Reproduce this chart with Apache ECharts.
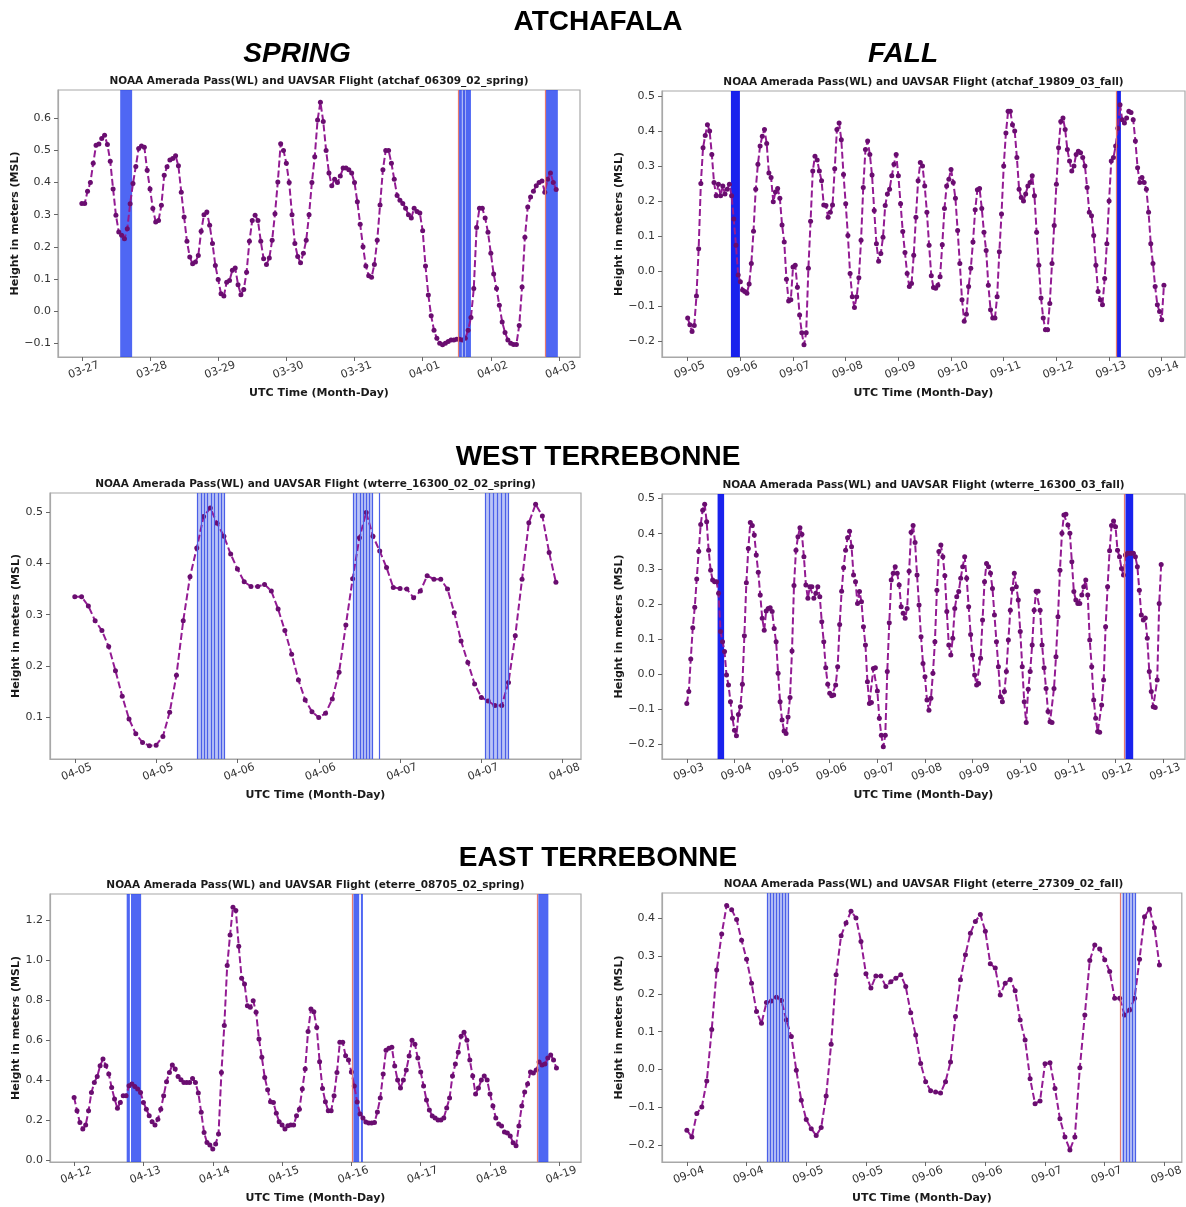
<!DOCTYPE html>
<html>
<head>
<meta charset="utf-8">
<script src="https://cdn.jsdelivr.net/npm/echarts@6/dist/echarts.min.js"></script>
<style>
  html, body { margin: 0; background: #fff; }
  #chart { width: 1186px; height: 1207px; }
</style>
</head>
<body>
<div id="chart"></div>
<script>
// water level (m, MSL), one value per hour from the first tick of each panel
var atchSpringWL = [
  0.335,0.335,0.373,0.40,0.46,0.516,0.52,0.537,0.547,0.518,
  0.466,0.38,0.298,0.246,0.236,0.225,0.256,0.334,0.397,0.45,
  0.506,0.514,0.51,0.438,0.38,0.319,0.277,0.282,0.329,0.423,
  0.449,0.47,0.475,0.483,0.452,0.37,0.293,0.217,0.168,0.147,
  0.153,0.173,0.248,0.30,0.308,0.267,0.21,0.142,0.098,0.054,
  0.047,0.09,0.095,0.127,0.134,0.082,0.051,0.067,0.121,0.217,
  0.282,0.298,0.282,0.217,0.163,0.145,0.165,0.22,0.303,0.402,
  0.521,
  0.50,0.46,0.40,0.30,0.21,0.17,0.15,0.18,0.22,0.30,
  0.40,0.48,0.595,0.65,0.59,0.50,0.43,0.39,0.41,0.40,
  0.42,0.445,0.445,0.44,0.43,0.40,0.34,0.27,0.20,0.14,
  0.11,0.105,0.145,0.22,0.33,0.44,0.50,0.50,0.46,0.41,
  0.36,0.345,0.335,0.32,0.30,0.29,0.32,0.31,0.305,0.25,
  0.14,0.05,-0.015,-0.06,-0.085,-0.1,-0.105,-0.1,-0.095,-0.09,
  -0.09,-0.088,-0.088,-0.09,-0.085,-0.06,-0.02,0.07,0.26,0.32,
  0.32,0.29,0.245,0.18,0.115,0.07,0.018,-0.034,-0.067,-0.09,
  -0.1,-0.104,-0.104,-0.045,0.075,0.23,0.324,0.355,0.373,0.39,
  0.40,0.405,0.37,0.41,0.43,0.40,0.378
];
var atchFallWL = [
  -0.134,-0.153,-0.172,-0.155,-0.071,0.064,0.25,0.352,0.387,0.418,
  0.40,0.333,0.253,0.215,0.248,0.215,0.243,0.22,0.234,0.248,
  0.215,0.149,0.074,-0.011,-0.03,-0.054,-0.058,-0.063,-0.037,0.022,
  0.114,0.234,0.305,0.357,0.385,0.404,0.364,0.28,0.267,0.198,
  0.226,0.236,0.208,0.132,0.083,-0.023,-0.085,-0.082,0.012,0.017,
  -0.046,-0.125,-0.176,-0.21,-0.176,0.008,0.142,0.286,0.328,0.317,
  0.286,0.258,0.189,0.187,0.154,0.168,0.189,0.292,0.404,0.423,
  0.375,0.276,0.192,0.102,-0.007,-0.073,-0.104,-0.073,-0.019,0.088,
  0.239,0.347,0.371,0.333,0.274,0.173,0.078,0.028,0.05,0.097,
  0.187,0.22,0.234,0.272,0.305,0.333,0.272,0.192,0.113,0.053,
  -0.007,-0.044,-0.035,0.045,0.154,0.258,
  0.31,0.30,0.243,0.168,0.074,-0.013,-0.047,-0.049,-0.04,-0.016,
  0.075,0.179,0.243,0.262,0.29,0.253,0.208,0.116,0.022,-0.082,
  -0.143,-0.123,-0.044,0.008,0.083,0.175,0.232,0.236,0.179,0.111,
  0.059,-0.04,-0.11,-0.134,-0.134,-0.073,0.055,0.163,0.30,0.394,
  0.456,0.456,0.418,0.40,0.324,0.234,0.21,0.20,0.22,
  0.243,0.253,0.272,0.215,0.111,0.017,-0.077,-0.134,-0.167,-0.167,
  -0.092,0.022,0.13,0.248,0.352,0.427,0.437,0.404,0.347,0.314,
  0.286,0.30,0.333,0.342,0.338,0.324,0.30,0.239,0.168,
  0.158,0.102,0.017,-0.058,-0.082,-0.096,-0.021,0.078,0.20,0.314,
  0.324,0.357,0.408,0.475,0.432,0.423,0.437,0.456,0.453,
  0.432,0.371,0.295,0.253,0.267,0.253,0.234,0.168,0.078,
  0.022,-0.044,-0.096,-0.115,-0.139,-0.04
];
var wtSpringWL = [
  0.335,0.335,0.317,0.288,0.269,0.238,0.191,0.141,0.097,0.068,
  0.051,0.045,0.046,0.063,0.11,0.182,0.288,0.374,0.43,0.491,
  0.508,0.478,0.453,0.418,0.389,0.364,0.355,0.355,0.359,0.346,
  0.311,0.269,0.223,0.173,0.134,0.111,0.10,0.108,0.136,0.188,
  0.28,0.37,0.45,0.499,0.453,0.424,0.392,0.353,0.351,0.35,
  0.333,0.346,0.376,0.369,0.369,0.35,0.304,0.249,0.207,0.165,
  0.139,0.132,0.123,0.123,0.168,0.259,0.369,0.479,0.515,0.492,
  0.421,0.363
];
var wtFallWL = [
  -0.084,-0.05,0.043,0.132,0.19,0.271,0.35,0.426,0.467,0.484,
  0.434,0.353,0.296,0.268,0.263,0.263,0.23,0.121,0.092,0.064,
  -0.003,-0.031,-0.079,-0.126,-0.16,-0.176,-0.115,-0.093,-0.029,0.109,
  0.26,0.358,0.432,0.423,0.396,0.339,0.29,0.225,0.159,0.125,
  0.18,0.187,0.189,0.178,0.13,0.092,0.002,-0.079,-0.131,-0.162,
  -0.169,-0.122,-0.067,0.066,0.252,0.353,0.391,0.417,0.398,0.334,
  0.254,0.216,0.249,0.249,0.216,0.23,0.249,0.22,0.149,0.092,
  0.018,-0.029,-0.055,-0.062,-0.06,-0.031,0.021,0.141,0.236,0.303,
  0.353,0.388,0.407,0.363,0.282,0.263,0.201,0.235,0.206,0.135,
  0.083,-0.022,-0.084,-0.081,0.016,0.018,-0.048,-0.126,-0.174,-0.207,
  -0.174,0.007,0.146,0.268,0.287,0.306,0.287,0.254,0.192,0.173,
  0.159,0.187,0.293,0.404,0.423,0.375,0.282,0.197,0.106,0.03,
  -0.008,-0.074,-0.103,-0.069,0.002,0.092,0.239,0.349,0.368,0.334,
  0.28,0.178,0.083,0.054,0.102,0.187,0.22,0.235,0.273,0.306,
  0.334,0.273,0.192,0.113,0.054,-0.003,-0.031,-0.027,0.045,0.154,
  0.263,0.315,0.306,0.287,0.244,0.168,0.092,0.021,-0.065,-0.079,
  -0.05,0.007,0.097,0.182,0.242,0.287,0.249,0.211,0.121,0.021,
  -0.079,-0.138,-0.043,0.007,0.083,0.182,0.236,0.236,0.182,0.083,
  0.018,-0.041,-0.107,-0.136,-0.138,-0.041,0.049,0.163,0.296,0.401,
  0.453,0.455,0.425,0.401,0.32,0.235,0.211,0.201,0.201,0.225,
  0.249,0.268,0.225,0.097,0.021,-0.074,-0.126,-0.164,-0.166,-0.088,
  -0.017,0.135,0.249,0.351,0.423,0.436,0.42,0.353,0.334,0.301,
  0.282,0.339,0.344,0.344,0.344,0.344,0.334,0.306,0.239,0.168,
  0.154,0.16,0.102,0.007,-0.05,-0.093,-0.095,-0.017,0.201,0.312
];
var etSpringWL = [
  0.313,0.246,0.187,0.154,0.174,0.246,0.338,0.388,0.418,0.472,
  0.505,0.472,0.43,0.363,0.305,0.258,0.288,0.321,0.321,0.372,
  0.38,0.368,0.355,0.338,0.288,0.254,0.221,0.191,0.174,0.204,
  0.254,0.321,0.392,0.438,0.475,0.455,0.418,0.402,0.388,0.388,
  0.388,0.408,0.388,0.335,0.238,0.137,0.087,0.074,0.054,0.079,
  0.129,0.438,0.673,0.974,1.128,1.267,1.25,1.071,0.91,0.882,
  0.773,0.765,0.798,0.74,0.606,0.514,0.413,0.351,0.291,0.288,
  0.234,0.191,0.174,0.154,0.171,0.174,0.174,0.221,0.254,0.355,
  0.455,0.643,0.756,0.743,0.664,0.492,0.358,0.291,0.246,0.246,
  0.321,0.438,0.589,0.589,0.522,0.5,0.44,
  0.37,0.29,0.23,0.21,0.19,0.185,0.185,0.187,0.24,0.31,
  0.43,0.55,0.56,0.565,0.47,0.40,0.36,0.40,0.45,0.52,
  0.60,0.58,0.51,0.44,0.37,0.30,0.25,0.22,0.21,0.20,
  0.20,0.21,0.26,0.31,0.42,0.48,0.54,0.62,0.64,0.60,
  0.50,0.42,0.33,0.36,0.40,0.42,0.40,0.33,0.27,0.21,
  0.18,0.17,0.14,0.135,0.12,0.085,0.07,0.17,0.27,0.34,
  0.38,0.44,0.435,0.45,0.49,0.475,0.48,0.51,0.525,0.50,
  0.46
];
var etFallWL = [
  -0.16,-0.178,-0.116,-0.099,-0.03,0.106,0.263,0.358,0.433,0.422,
  0.396,0.341,0.291,0.228,0.153,0.122,0.177,0.181,0.191,0.182,
  0.131,0.087,-0.002,-0.081,-0.132,-0.156,-0.174,-0.153,-0.07,0.067,
  0.25,0.353,0.387,0.418,0.40,0.338,0.253,0.215,0.247,0.247,
  0.219,0.232,0.241,0.25,0.219,0.15,0.091,0.016,-0.032,-0.056,
  -0.059,-0.062,-0.032,0.02,0.14,0.237,0.303,0.36,0.391,0.409,
  0.365,0.279,0.268,0.197,0.228,0.238,0.208,0.131,0.078,-0.024,
  -0.09,-0.083,0.015,0.018,-0.05,-0.13,-0.178,-0.212,-0.178,0.005,
  0.144,0.288,0.329,0.318,0.29,0.259,0.188,0.188,0.144,0.157,
  0.188,0.291,0.403,0.424,0.374,0.276
];

// tick labels (Month-Day)
var atchSpringTicks = ['03-27','03-28','03-29','03-30','03-31','04-01','04-02','04-03'];
var atchFallTicks = ['09-05','09-06','09-07','09-08','09-09','09-10','09-11','09-12','09-13','09-14'];
var wtSpringTicks = ['04-05','04-05','04-06','04-06','04-07','04-07','04-08'];
var wtFallTicks = ['09-03','09-04','09-05','09-06','09-07','09-08','09-09','09-10','09-11','09-12','09-13'];
var etSpringTicks = ['04-12','04-13','04-14','04-15','04-16','04-17','04-18','04-19'];
var etFallTicks = ['09-04','09-04','09-05','09-05','09-06','09-06','09-07','09-07','09-08'];

var atchSpringY = [-0.1,0,0.1,0.2,0.3,0.4,0.5,0.6];
var atchFallY = [-0.2,-0.1,0,0.1,0.2,0.3,0.4,0.5];
var wtSpringY = [0.1,0.2,0.3,0.4,0.5];
var wtFallY = [-0.2,-0.1,0,0.1,0.2,0.3,0.4,0.5];
var etSpringY = [0,0.2,0.4,0.6,0.8,1.0,1.2];
var etFallY = [-0.2,-0.1,0,0.1,0.2,0.3,0.4];

// UAVSAR flight windows (hours from first tick)
var atchSpringSolid = [[13.5,17.7],[132.5,133.8],[135.2,137.0],[163.4,167.6]];
var atchSpringLight = [[133.8,135.2]];
var atchSpringLines = [134.3,134.8];
var atchSpringRed = [132.4,163.3];
var atchFallSolid = [[19.7,23.8],[195.5,197.4]];
var atchFallRed = [195.2];
var wtSpringLight = [[18.1,22.1],[41.1,43.9],[60.6,64.0]];
var wtSpringLines = [18.1,18.6,19.1,19.6,20.1,20.6,21.1,21.6,22.1,
  41.1,41.6,42.1,42.5,43.0,43.5,43.9,44.9,
  60.6,61.2,61.8,62.3,62.9,63.5,64.0];
var wtFallSolid = [[15.5,18.8],[221.0,224.9]];
var wtFallRed = [220.2];
var etSpringSolid = [[18.2,19.3],[19.7,23.2],[96.7,98.7],[99.3,100.0],[160.7,164.2]];
var etSpringRed = [96.4,160.5];
var etFallLight = [[16.1,20.4],[87.4,90.2]];
var etFallLines = [16.15,16.75,17.36,17.97,18.57,19.18,19.79,20.4,87.76,88.4,89.0,89.6,90.2];
var etFallRed = [87.2];

var FONT = 'DejaVu Sans';
var MID_BLUE = 'rgba(30,60,240,0.78)';
var DEEP_BLUE = 'rgba(0,10,235,0.9)';
var LIGHT_BLUE = 'rgba(60,85,230,0.35)';
var LINE_BLUE = '#4a5fe8';
var RED = '#e87b6e';
var FRAME = '#a8a8a8';

var panels = [
  { name: 'atchaf_06309_02_spring', wl: atchSpringWL, ticks: atchSpringTicks, step: 24, x: [-8.4, 175.4],
    yt: atchSpringY, y: [-0.143, 0.688], box: [58, 90, 522, 267], yGap: 35,
    solid: atchSpringSolid, solidColor: MID_BLUE, light: atchSpringLight, lines: atchSpringLines, red: atchSpringRed },
  { name: 'atchaf_19809_03_fall', wl: atchFallWL, ticks: atchFallTicks, step: 24, x: [-11.7, 226.6],
    yt: atchFallY, y: [-0.245, 0.514], box: [662, 91, 523, 266], yGap: 32,
    solid: atchFallSolid, solidColor: DEEP_BLUE, light: [], lines: [], red: atchFallRed },
  { name: 'wterre_16300_02_02_spring', wl: wtSpringWL, ticks: wtSpringTicks, step: 12, x: [-3.66, 74.7],
    yt: wtSpringY, y: [0.019, 0.537], box: [50, 493, 531, 266], yGap: 27,
    solid: [], solidColor: MID_BLUE, light: wtSpringLight, lines: wtSpringLines, red: [] },
  { name: 'wterre_16300_03_fall', wl: wtFallWL, ticks: wtFallTicks, step: 24, x: [-12.5, 251],
    yt: wtFallY, y: [-0.242, 0.513], box: [662, 494, 523, 265], yGap: 32,
    solid: wtFallSolid, solidColor: DEEP_BLUE, light: [], lines: [], red: wtFallRed },
  { name: 'eterre_08705_02_spring', wl: etSpringWL, ticks: etSpringTicks, step: 24, x: [-8.35, 175.5],
    yt: etSpringY, y: [-0.011, 1.333], box: [50, 894, 531, 268], yGap: 27,
    solid: etSpringSolid, solidColor: MID_BLUE, light: [], lines: [], red: etSpringRed },
  { name: 'eterre_27309_02_fall', wl: etFallWL, ticks: etFallTicks, step: 12, x: [-5, 99.5],
    yt: etFallY, y: [-0.244, 0.466], box: [662, 893, 523, 269], yGap: 33,
    solid: [], solidColor: MID_BLUE, light: etFallLight, lines: etFallLines, red: etFallRed }
];

function fmtY(v) {
  var s = Math.abs(v).toFixed(1);
  return (v < -1e-9 ? '\u2212' : '') + s;
}

var grids = [], xAxes = [], yAxes = [], series = [], texts = [];

panels.forEach(function (p, i) {
  var tickVals = p.ticks.map(function (t, k) { return k * p.step; });
  grids.push({
    left: p.box[0], top: p.box[1], width: p.box[2], height: p.box[3],
    show: true, borderColor: FRAME, borderWidth: 1.2, backgroundColor: '#fff'
  });
  xAxes.push({
    gridIndex: i, type: 'value', min: p.x[0], max: p.x[1],
    axisLine: { show: true, onZero: false, lineStyle: { color: FRAME, width: 1.2 } },
    splitLine: { show: false },
    axisTick: { show: true, customValues: tickVals, length: 4, lineStyle: { color: '#666' } },
    axisLabel: {
      customValues: tickVals, rotate: 20, align: 'center', verticalAlign: 'top', margin: 8,
      color: '#333', fontSize: 11, fontFamily: FONT,
      formatter: function (v) { return p.ticks[Math.round(v / p.step)] || ''; }
    },
    name: 'UTC Time (Month-Day)', nameLocation: 'middle', nameGap: 31,
    nameTextStyle: { fontWeight: 'bold', fontSize: 11, color: '#1a1a1a', fontFamily: FONT }
  });
  yAxes.push({
    gridIndex: i, type: 'value', min: p.y[0], max: p.y[1],
    axisLine: { show: true, onZero: false, lineStyle: { color: FRAME, width: 1.2 } },
    splitLine: { show: false },
    axisTick: { show: true, customValues: p.yt, length: 4, lineStyle: { color: '#666' } },
    axisLabel: {
      customValues: p.yt, margin: 7, color: '#333', fontSize: 11, fontFamily: FONT,
      formatter: fmtY
    },
    name: 'Height in meters (MSL)', nameLocation: 'middle', nameGap: p.yGap,
    nameTextStyle: { fontWeight: 'bold', fontSize: 11, color: '#1a1a1a', fontFamily: FONT }
  });

  series.push({
    type: 'line', xAxisIndex: i, yAxisIndex: i, z: 2, silent: true,
    data: p.wl.map(function (v, h) { return [h, v]; }),
    showAllSymbol: true, symbol: 'circle', symbolSize: 5,
    lineStyle: { color: '#931b93', width: 2, type: [7, 3] },
    itemStyle: { color: '#6a0d70' }
  });

  var areas = [];
  p.light.forEach(function (b) { areas.push([{ xAxis: b[0], itemStyle: { color: LIGHT_BLUE } }, { xAxis: b[1] }]); });
  p.solid.forEach(function (b) { areas.push([{ xAxis: b[0], itemStyle: { color: p.solidColor } }, { xAxis: b[1] }]); });
  var marks = [];
  p.lines.forEach(function (t) { marks.push({ xAxis: t, lineStyle: { color: LINE_BLUE, width: 1.2, type: 'solid' } }); });
  p.red.forEach(function (t) { marks.push({ xAxis: t, lineStyle: { color: RED, width: 1.2, type: 'solid' } }); });

  series.push({
    type: 'line', xAxisIndex: i, yAxisIndex: i, z: 5, silent: true, data: [],
    markArea: { silent: true, data: areas, label: { show: false } },
    markLine: { silent: true, symbol: ['none', 'none'], label: { show: false }, data: marks }
  });

  texts.push({
    type: 'text', x: p.box[0] + p.box[2] / 2, y: p.box[1] - 9,
    style: {
      text: 'NOAA Amerada Pass(WL) and UAVSAR Flight (' + p.name + ')',
      font: 'bold 10.5px "' + FONT + '"', fill: '#1a1a1a', align: 'center', verticalAlign: 'middle'
    }
  });
});

function bigText(t, x, y, italic) {
  return {
    type: 'text', x: x, y: y,
    style: {
      text: t, font: (italic ? 'italic ' : '') + 'bold 28px "Liberation Sans"',
      fill: '#000', align: 'center', verticalAlign: 'middle'
    }
  };
}
texts.push(bigText('ATCHAFALA', 598, 22));
texts.push(bigText('SPRING', 297, 54, true));
texts.push(bigText('FALL', 903, 54, true));
texts.push(bigText('WEST TERREBONNE', 598, 457));
texts.push(bigText('EAST TERREBONNE', 598, 858));

var chart = echarts.init(document.getElementById('chart'));
chart.setOption({
  animation: false,
  backgroundColor: '#fff',
  grid: grids,
  xAxis: xAxes,
  yAxis: yAxes,
  series: series,
  graphic: texts
});
</script>
</body>
</html>
